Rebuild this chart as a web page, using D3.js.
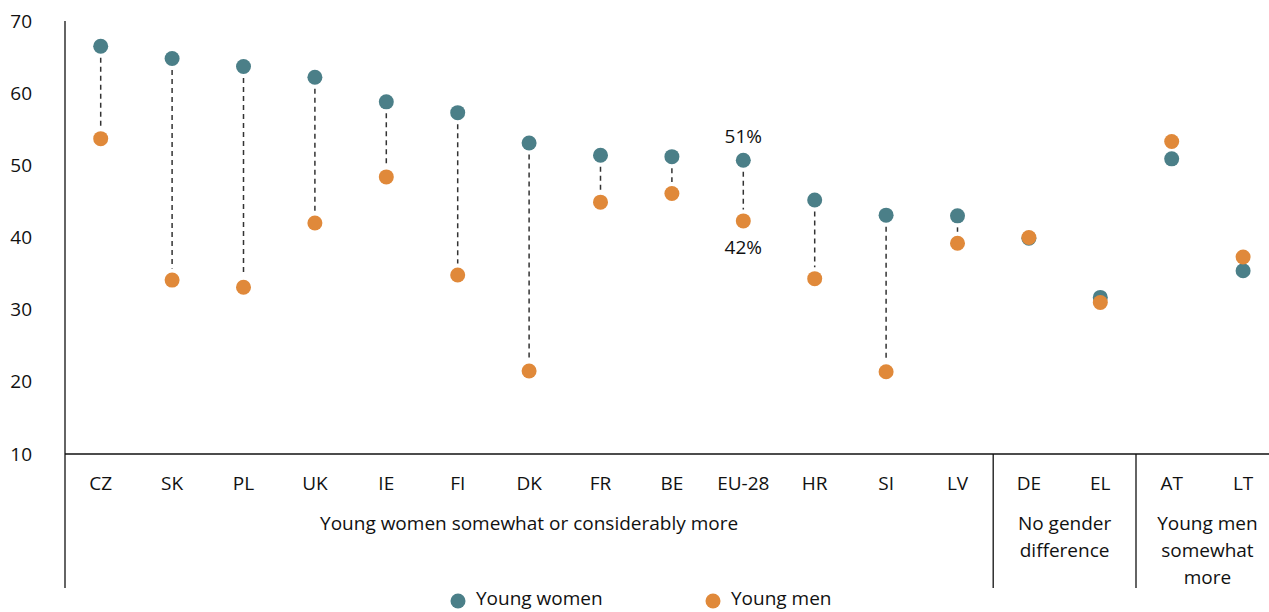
<!DOCTYPE html>
<html><head><meta charset="utf-8">
<script src="https://cdn.jsdelivr.net/npm/d3@7"></script>
<style>body{margin:0;background:#fff}svg{display:block;font-family:"Open Sans",sans-serif}</style>
</head><body><svg id="c" width="1269" height="612"></svg>
<script>
const categories = ["CZ","SK","PL","UK","IE","FI","DK","FR","BE","EU-28","HR","SI","LV","DE","EL","AT","LT"];
const youngWomen = [66.5,64.8,63.7,62.2,58.8,57.3,53.1,51.4,51.2,50.7,45.2,43.1,43.0,39.9,31.7,50.9,35.4];
const youngMen   = [53.7,34.1,33.1,42.0,48.4,34.8,21.5,44.9,46.1,42.3,34.3,21.4,39.2,40.0,31.0,53.3,37.3];
const yTicks = [10,20,30,40,50,60,70];
const groups = [
  {label:["Young women somewhat or considerably more"], from:"CZ", to:"LV"},
  {label:["No gender","difference"], from:"DE", to:"EL"},
  {label:["Young men","somewhat","more"], from:"AT", to:"LT"}
];
const seriesNames = ["Young women","Young men"];
const colors = ["#4b7f88","#e0893a"];
const pctLabels = {cat:"EU-28", women:"51%", men:"42%"};

const svg = d3.select("#c");
const left = 65, step = 71.4, fs = 19;
const x = d3.scaleBand().domain(categories).range([left, left+step*categories.length]).padding(0);
const y = d3.scaleLinear().domain([10,70]).range([454,21]);
const cx = c => x(c)+x.bandwidth()/2;
const r = 7.5;

// axes
svg.append("line").attr("x1",left).attr("x2",left).attr("y1",y(70)).attr("y2",588).attr("stroke","#111").attr("stroke-width",1.3);
svg.append("line").attr("x1",left).attr("x2",1269).attr("y1",y(10)).attr("y2",y(10)).attr("stroke","#111").attr("stroke-width",1.3);
svg.selectAll(".yt").data(yTicks).join("text").attr("x",32).attr("y",d=>y(d)).attr("dy","0.35em")
  .attr("text-anchor","end").attr("font-size",fs).attr("fill","#111").text(d=>d);

// separators
[["LV","DE"],["EL","AT"]].forEach(([a,b])=>{
  const sx = (cx(a)+cx(b))/2;
  svg.append("line").attr("x1",sx).attr("x2",sx).attr("y1",y(10)).attr("y2",588).attr("stroke","#111").attr("stroke-width",1.3);
});

// category labels
svg.selectAll(".xl").data(categories).join("text").attr("x",d=>cx(d)).attr("y",483).attr("dy","0.35em")
  .attr("text-anchor","middle").attr("font-size",fs).attr("fill","#111").text(d=>d);

// group labels
groups.forEach(g=>{
  const gx = (cx(g.from)+cx(g.to))/2;
  g.label.forEach((t,i)=>{
    svg.append("text").attr("x",gx).attr("y",523+i*27).attr("dy","0.35em").attr("text-anchor","middle")
      .attr("font-size",fs).attr("fill","#111").text(t);
  });
});

// dashed connectors
const gap = r+4;
categories.forEach((c,i)=>{
  const a = y(youngWomen[i]), b = y(youngMen[i]);
  const top = Math.min(a,b), bot = Math.max(a,b);
  if (bot-top > 2*gap+2) {
    svg.append("line").attr("x1",cx(c)).attr("x2",cx(c)).attr("y1",top+gap).attr("y2",bot-gap)
      .attr("stroke","#333").attr("stroke-width",1.5).attr("stroke-dasharray","5,4");
  }
});

// dots
svg.selectAll(".w").data(categories).join("circle").attr("cx",d=>cx(d)).attr("cy",(d,i)=>y(youngWomen[i])).attr("r",r).attr("fill",colors[0]);
svg.selectAll(".m").data(categories).join("circle").attr("cx",d=>cx(d)).attr("cy",(d,i)=>y(youngMen[i])).attr("r",r).attr("fill",colors[1]);

// percent labels
const pi = categories.indexOf(pctLabels.cat);
svg.append("text").attr("x",cx(pctLabels.cat)).attr("y",y(youngWomen[pi])-24).attr("dy","0.35em").attr("text-anchor","middle").attr("font-size",fs).attr("fill","#111").text(pctLabels.women);
svg.append("text").attr("x",cx(pctLabels.cat)).attr("y",y(youngMen[pi])+26).attr("dy","0.35em").attr("text-anchor","middle").attr("font-size",fs).attr("fill","#111").text(pctLabels.men);

// legend
const lg = [{x:458},{x:713}];
seriesNames.forEach((n,i)=>{
  svg.append("circle").attr("cx",lg[i].x).attr("cy",601).attr("r",7.5).attr("fill",colors[i]);
  svg.append("text").attr("x",lg[i].x+18).attr("y",598).attr("dy","0.35em").attr("font-size",fs).attr("fill","#111").text(n);
});
</script></body></html>
